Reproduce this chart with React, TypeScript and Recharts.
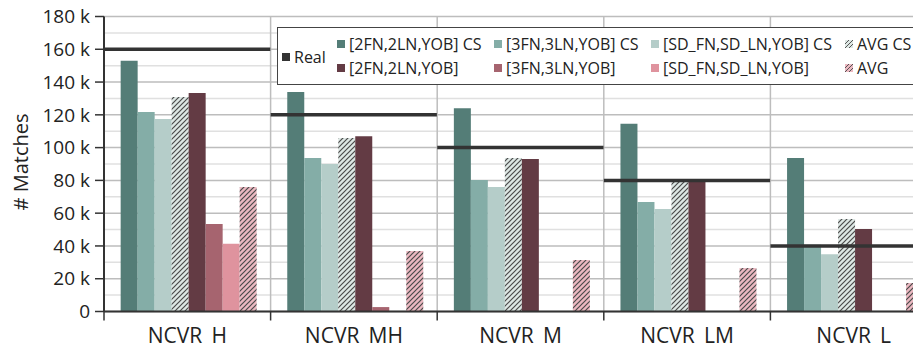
import React from 'react';
import { BarChart, Bar, XAxis, YAxis, CartesianGrid, Legend } from 'recharts';

const FONT = '"Open Sans", "Noto Sans", sans-serif';

const categories = ['NCVR_H', 'NCVR_MH', 'NCVR_M', 'NCVR_LM', 'NCVR_L'];
const realValues = [160000, 120000, 100000, 80000, 40000];
const cs2fn = [153000, 134000, 124000, 114500, 93700];
const cs3fn = [121700, 93600, 80200, 66800, 40800];
const csSd = [117400, 90000, 76000, 62500, 35000];
const csAvg = [130900, 105800, 93600, 80800, 56400];
const plain2fn = [133300, 107000, 93000, 79000, 50300];
const plain3fn = [53400, 2700, 0, 0, 0];
const plainSd = [41400, 0, 0, 0, 0];
const plainAvg = [76000, 36900, 31400, 26500, 17400];
const yTicks = [0, 20000, 40000, 60000, 80000, 100000, 120000, 140000, 160000, 180000];
const yMinorTicks = [10000, 30000, 50000, 70000, 90000, 110000, 130000, 150000, 170000];

const series = [
  { key: 'cs2fn', name: '[2FN,2LN,YOB] CS', color: '#547d77', values: cs2fn },
  { key: 'cs3fn', name: '[3FN,3LN,YOB] CS', color: '#84ada7', values: cs3fn },
  { key: 'csSd', name: '[SD_FN,SD_LN,YOB] CS', color: '#b5cdc9', values: csSd },
  { key: 'csAvg', name: 'AVG CS', color: '#dde7e4', values: csAvg, hatch: 'hatchCs' },
  { key: 'plain2fn', name: '[2FN,2LN,YOB]', color: '#633b44', values: plain2fn },
  { key: 'plain3fn', name: '[3FN,3LN,YOB]', color: '#a6646f', values: plain3fn },
  { key: 'plainSd', name: '[SD_FN,SD_LN,YOB]', color: '#df939e', values: plainSd },
  { key: 'plainAvg', name: 'AVG', color: '#ebb8c1', values: plainAvg, hatch: 'hatchPlain' },
];

const data = categories.map((name, i) => {
  const row: any = { name, real: realValues[i] };
  series.forEach((s) => {
    row[s.key] = s.values[i];
  });
  return row;
});

const fmtY = (v: number) => (v === 0 ? '0' : `${v / 1000} k`);

const RealLine = (props: any) => {
  const { x, y, width } = props;
  if (x == null || y == null) return null;
  const full = width / 0.8;
  const x0 = x - (full - width) / 2;
  return <line x1={x0} x2={x0 + full} y1={y} y2={y} stroke="#333333" strokeWidth={3.5} />;
};

const XTick = (props: any) => {
  const { x, y, payload, width } = props;
  const half = payload && payload.offset ? payload.offset : width / categories.length / 2;
  return (
    <g>
      <line x1={x - half} x2={x - half} y1={y} y2={y + 9} stroke="#333" strokeWidth={1.5} />
      <text x={x} y={y + 31} textAnchor="middle" fontSize={21} fill="#222" fontFamily={FONT}>
        {payload.value}
      </text>
    </g>
  );
};

const YLabel = (props: any) => {
  const vb = props.viewBox || { x: 0, y: 0, width: 0, height: 0 };
  const cx = vb.x + 12;
  const cy = vb.y + vb.height / 2 - 2;
  return (
    <text
      x={cx}
      y={cy}
      transform={`rotate(-90 ${cx} ${cy})`}
      textAnchor="middle"
      dominantBaseline="central"
      fontSize={20}
      fill="#222"
      fontFamily={FONT}
    >
      # Matches
    </text>
  );
};

const Swatch = ({ color, hatch }: { color: string; hatch?: boolean }) => (
  <svg width={8} height={8} style={{ display: 'block' }}>
    <rect x={0} y={0} width={8} height={8} fill={color} />
    {hatch ? (
      <path d="M0,4 L4,0 M0,8 L8,0 M4,8 L8,4" stroke="#555" strokeWidth={1} />
    ) : null}
  </svg>
);

const colLefts = [59, 216, 373, 567];

const LegendBox = () => {
  const item = (s: any, left: number, top: number) => (
    <div
      key={s.key}
      style={{ position: 'absolute', left, top, display: 'flex', alignItems: 'center', whiteSpace: 'nowrap' }}
    >
      <Swatch color={s.color} hatch={!!s.hatch} />
      <span style={{ marginLeft: 4, lineHeight: '20px' }}>{s.name}</span>
    </div>
  );
  return (
    <div
      style={{
        position: 'relative',
        width: 660,
        height: 56,
        border: '1.5px solid #444',
        background: '#fff',
        fontFamily: FONT,
        fontSize: 16,
        color: '#222',
      }}
    >
      <div style={{ position: 'absolute', left: 4, top: 19, display: 'flex', alignItems: 'center' }}>
        <Swatch color="#333" />
        <span style={{ marginLeft: 4, lineHeight: '20px' }}>Real</span>
      </div>
      {series.slice(0, 4).map((s, i) => item(s, colLefts[i], 6))}
      {series.slice(4).map((s, i) => item(s, colLefts[i], 30))}
    </div>
  );
};

export default function App() {
  return (
    <div style={{ width: 913, height: 336, overflow: 'hidden', position: 'relative' }}>
      <BarChart
        width={945}
        height={344}
        data={data}
        margin={{ top: 8.5, right: 16, left: 0, bottom: 0.5 }}
        barCategoryGap="10%"
        barGap={0}
      >
        <defs>
          <pattern id="hatchCs" patternUnits="userSpaceOnUse" width={5} height={5}>
            <rect x={0} y={0} width={5} height={5} fill="#dde7e4" />
            <path d="M-1,1 L1,-1 M0,5 L5,0 M4,6 L6,4" stroke="#4a4a4a" strokeWidth={1.2} />
          </pattern>
          <pattern id="hatchPlain" patternUnits="userSpaceOnUse" width={5} height={5}>
            <rect x={0} y={0} width={5} height={5} fill="#ebb8c1" />
            <path d="M-1,1 L1,-1 M0,5 L5,0 M4,6 L6,4" stroke="#4a4a4a" strokeWidth={1.2} />
          </pattern>
        </defs>
        <CartesianGrid vertical={false} horizontalValues={yMinorTicks} stroke="#e0e0e0" strokeWidth={1.5} />
        <CartesianGrid
          stroke="#bdbdbd"
          strokeWidth={1.5}
          verticalCoordinatesGenerator={({ offset }: any) =>
            categories.map((_, i) => offset.left + (i * offset.width) / categories.length)
          }
        />
        <XAxis
          dataKey="name"
          interval={0}
          tick={<XTick />}
          tickLine={false}
          tickSize={0}
          tickMargin={0}
          height={40}
          axisLine={{ stroke: '#333', strokeWidth: 2 }}
        />
        <XAxis xAxisId="real" dataKey="name" hide />
        <YAxis
          width={96}
          domain={[0, 180000]}
          ticks={yTicks}
          interval={0}
          tickFormatter={fmtY}
          tick={{ fontSize: 19, fill: '#222', fontFamily: FONT }}
          tickLine={{ stroke: '#333', strokeWidth: 1.5 }}
          tickSize={9}
          tickMargin={5}
          axisLine={{ stroke: '#333', strokeWidth: 2 }}
          label={<YLabel />}
        />
        {series.map((s) => (
          <Bar
            key={s.key}
            dataKey={s.key}
            name={s.name}
            fill={s.hatch ? `url(#${s.hatch})` : s.color}
            isAnimationActive={false}
          />
        ))}
        <Bar xAxisId="real" dataKey="real" name="Real" shape={<RealLine />} isAnimationActive={false} />
        <Legend
          layout="vertical"
          align="center"
          verticalAlign="middle"
          content={<LegendBox />}
          wrapperStyle={{ top: 19, left: 269, width: 'auto', height: 'auto' }}
        />
      </BarChart>
    </div>
  );
}
